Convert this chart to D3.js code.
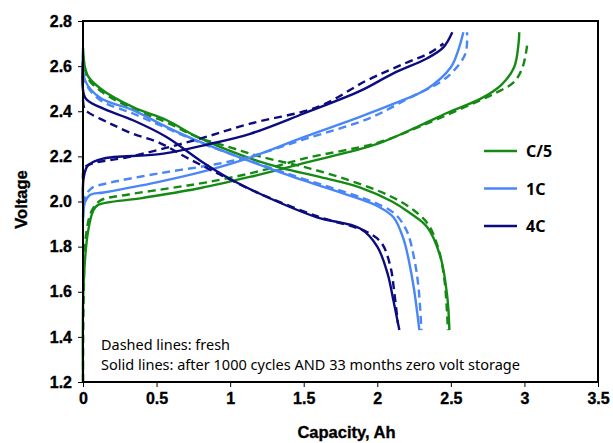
<!DOCTYPE html>
<html>
<head>
<meta charset="utf-8">
<script src="https://cdn.jsdelivr.net/npm/d3@7"></script>
<style>
  body { margin: 0; background: #fff; }
  .axis text { font-family: "Liberation Sans", Arial, sans-serif; font-weight: bold; font-size: 16px; fill: #000; stroke: #000; stroke-width: 0.35; }
  .axis path { display: none; }
  .axis line { stroke: #000; stroke-width: 1; }
  .title { font-family: "Liberation Sans", Arial, sans-serif; font-weight: bold; font-size: 16.5px; stroke: #000; stroke-width: 0.35; }
  .note { font-family: "Noto Sans", sans-serif; font-size: 14px; }
  .legend text { font-family: "Noto Sans", sans-serif; font-weight: bold; font-size: 16px; }
  .curve { fill: none; stroke-width: 2.4; }
</style>
</head>
<body>
<div id="chart"></div>
<script>
// capacity (Ah), voltage (V)
// C/5
var c5ChargeAged = [[0,1.2],[0.005,1.65],[0.035,1.87],[0.07,1.96],[0.10,1.984],[0.4,2.015],[0.8,2.06],[1.14,2.11],[1.5,2.17],[2.0,2.255],[2.3,2.34],[2.5,2.40],[2.7,2.455],[2.84,2.515],[2.93,2.595],[2.96,2.70],[2.965,2.75]];
var c5ChargeFresh = [[0,1.2],[0.005,1.6],[0.02,1.85],[0.06,1.96],[0.12,2.005],[0.3,2.03],[0.6,2.06],[0.84,2.085],[1.17,2.13],[1.5,2.19],[2.0,2.26],[2.3,2.335],[2.6,2.42],[2.8,2.48],[2.93,2.53],[2.99,2.6],[3.02,2.70]];
var c5DischargeAged = [[0,2.68],[0.03,2.56],[0.12,2.50],[0.34,2.418],[0.57,2.36],[0.78,2.285],[1.14,2.19],[1.36,2.147],[1.6,2.11],[1.88,2.063],[2.1,2.0],[2.22,1.95],[2.34,1.886],[2.43,1.753],[2.476,1.576],[2.49,1.43]];
var c5DischargeFresh = [[0,2.65],[0.03,2.55],[0.12,2.49],[0.34,2.41],[0.57,2.35],[0.78,2.285],[1.0,2.24],[1.2,2.2],[1.55,2.145],[1.88,2.078],[2.1,2.02],[2.25,1.96],[2.35,1.895],[2.42,1.78],[2.455,1.66],[2.47,1.55],[2.48,1.43]];
// 1C
var c1ChargeAged = [[0,1.91],[0.015,2.0],[0.05,2.03],[0.14,2.04],[0.5,2.085],[0.8,2.13],[1.14,2.196],[1.5,2.285],[1.84,2.365],[2.1,2.43],[2.34,2.50],[2.5,2.595],[2.55,2.67],[2.585,2.75]];
var c1ChargeFresh = [[0,1.93],[0.015,2.02],[0.06,2.06],[0.16,2.08],[0.52,2.125],[0.9,2.165],[1.14,2.2],[1.5,2.275],[1.95,2.37],[2.22,2.46],[2.43,2.53],[2.52,2.58],[2.60,2.657],[2.61,2.75]];
var c1DischargeAged = [[0,2.67],[0.014,2.537],[0.116,2.46],[0.34,2.405],[0.57,2.33],[0.8,2.263],[1.36,2.125],[1.884,2.01],[2.0,1.98],[2.11,1.93],[2.18,1.83],[2.22,1.72],[2.25,1.61],[2.286,1.43]];
var c1DischargeFresh = [[0,2.62],[0.014,2.53],[0.116,2.45],[0.34,2.39],[0.57,2.325],[0.8,2.26],[1.36,2.13],[1.88,2.02],[2.0,1.99],[2.12,1.945],[2.2,1.87],[2.25,1.75],[2.28,1.62],[2.30,1.43]];
// 4C
var c4ChargeAged = [[0,2.0],[0.005,2.107],[0.034,2.16],[0.136,2.19],[0.52,2.21],[0.86,2.255],[1.136,2.30],[1.5,2.39],[1.884,2.49],[2.109,2.568],[2.34,2.635],[2.449,2.683],[2.51,2.75]];
var c4ChargeFresh = [[0,2.1],[0.01,2.15],[0.07,2.17],[0.30,2.196],[0.75,2.27],[1.136,2.345],[1.6,2.42],[1.93,2.537],[2.18,2.61],[2.36,2.66],[2.45,2.70]];
var c4DischargeAged = [[0,2.62],[0.014,2.46],[0.116,2.418],[0.34,2.36],[0.57,2.285],[0.8,2.18],[1.0,2.1],[1.25,2.02],[1.59,1.93],[1.884,1.88],[2.0,1.80],[2.07,1.68],[2.11,1.56],[2.15,1.43]];
var c4DischargeFresh = [[0,2.45],[0.01,2.41],[0.035,2.395],[0.18,2.347],[0.34,2.30],[0.52,2.26],[0.7,2.196],[0.93,2.12],[1.2,2.035],[1.59,1.935],[1.93,1.865],[2.03,1.815],[2.09,1.71],[2.115,1.60],[2.14,1.46]];

var rates = ["C/5", "1C", "4C"];
var colors = ["#148a14", "#4a86f7", "#0c0c80"];
var xTicks = [0, 0.5, 1, 1.5, 2, 2.5, 3, 3.5];
var yTicks = [1.2, 1.4, 1.6, 1.8, 2.0, 2.2, 2.4, 2.6, 2.8];
var notes = ["Dashed lines: fresh", "Solid lines: after 1000 cycles AND 33 months zero volt storage"];
var noteWidths = [129, 419];

var margin = {top: 21, right: 15, bottom: 61, left: 83},
    width = 613 - margin.left - margin.right,
    height = 443 - margin.top - margin.bottom;

var x = d3.scaleLinear().domain([0, 3.5]).range([0, width]);
var y = d3.scaleLinear().domain([1.2, 2.8]).range([height, 0]);

var line = d3.line()
    .curve(d3.curveCatmullRom.alpha(0.5))
    .x(function(d) { return x(d[0]); })
    .y(function(d) { return y(d[1]); });

var svg = d3.select("#chart").append("svg")
    .attr("width", 613)
    .attr("height", 443)
    .append("g")
    .attr("transform", "translate(" + margin.left + "," + margin.top + ")");

// axes
svg.append("g")
    .attr("class", "x axis")
    .attr("transform", "translate(0," + height + ")")
    .call(d3.axisBottom(x).tickValues(xTicks).tickSize(5).tickPadding(6).tickFormat(d3.format("")));

svg.append("g")
    .attr("class", "y axis")
    .call(d3.axisLeft(y).tickValues(yTicks).tickSize(5).tickPadding(6).tickFormat(d3.format(".1f")));

// curves, one group per rate
var series = [
    [c5ChargeAged, c5ChargeFresh, c5DischargeAged, c5DischargeFresh],
    [c1ChargeAged, c1ChargeFresh, c1DischargeAged, c1DischargeFresh],
    [c4ChargeAged, c4ChargeFresh, c4DischargeAged, c4DischargeFresh]
];

series.forEach(function(s, i) {
    s.forEach(function(data, j) {
        svg.append("path")
            .datum(data)
            .attr("class", "curve")
            .attr("stroke", colors[i])
            .attr("stroke-dasharray", j % 2 ? "8,5" : null)
            .attr("d", line);
    });
});

// plot frame
svg.append("rect")
    .attr("width", width)
    .attr("height", height)
    .attr("fill", "none")
    .attr("stroke", "#000")
    .attr("stroke-width", 2);

// legend
var legend = svg.append("g").attr("class", "legend");
rates.forEach(function(r, i) {
    var ly = 130 + i * 37.5;
    legend.append("line")
        .attr("x1", 401).attr("x2", 434)
        .attr("y1", ly).attr("y2", ly)
        .attr("stroke", colors[i])
        .attr("stroke-width", 2.4);
    legend.append("text")
        .attr("x", 443).attr("y", ly + 6)
        .text(r);
});

// notes
notes.forEach(function(n, i) {
    svg.append("text")
        .attr("class", "note")
        .attr("x", 18)
        .attr("y", 329 + i * 20)
        .attr("textLength", noteWidths[i])
        .attr("lengthAdjust", "spacingAndGlyphs")
        .text(n);
});

// axis titles
svg.append("text")
    .attr("class", "title")
    .attr("transform", "rotate(-90)")
    .attr("x", -height / 2 + 2)
    .attr("y", -56)
    .style("text-anchor", "middle")
    .text("Voltage");

svg.append("text")
    .attr("class", "title")
    .attr("x", width / 2 + 6)
    .attr("y", height + 56)
    .style("text-anchor", "middle")
    .text("Capacity, Ah");
</script>
</body>
</html>
